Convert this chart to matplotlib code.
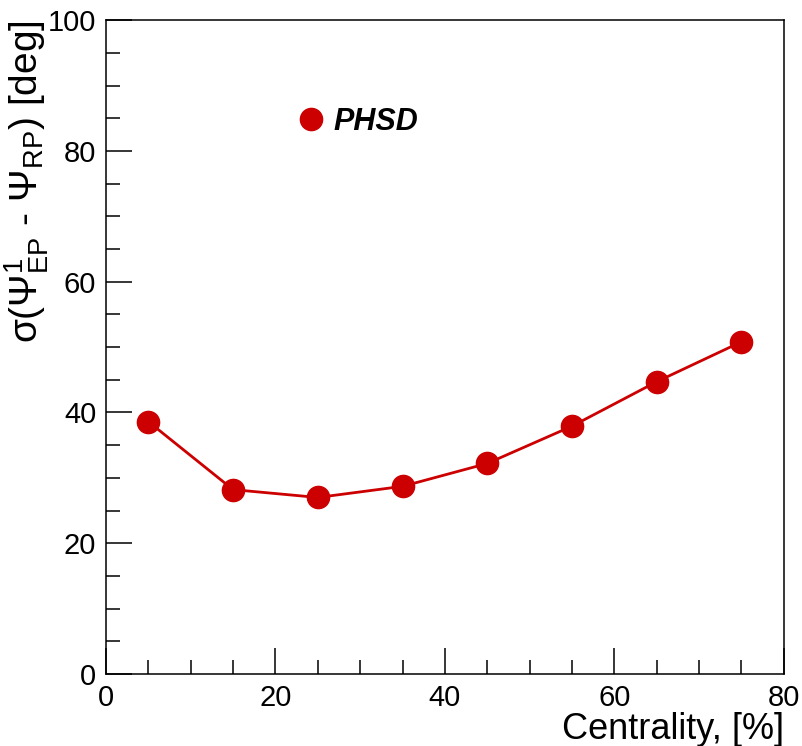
import matplotlib
matplotlib.use("Agg")
import matplotlib.pyplot as plt
from matplotlib.ticker import MultipleLocator

# centrality bins (%) and event-plane resolution sigma (deg)
centrality = [5, 15, 25, 35, 45, 55, 65, 75]
sigma_psi = [38.6, 28.2, 27.0, 28.7, 32.2, 37.9, 44.7, 50.8]

plt.rcParams["font.family"] = "Liberation Sans"
plt.rcParams["mathtext.fontset"] = "custom"
plt.rcParams["mathtext.rm"] = "Liberation Sans"
plt.rcParams["mathtext.it"] = "Liberation Sans:italic"
plt.rcParams["mathtext.bf"] = "Liberation Sans:bold"

red = "#cc0000"

fig = plt.figure(figsize=(8.03, 7.46), dpi=100)
ax = fig.add_axes([0.132, 0.0965, 0.844, 0.8765])

ax.plot(centrality, sigma_psi, color=red, lw=2.0, marker="o", ms=16,
        mec=red, mfc=red, label="PHSD")

ax.set_xlim(0, 80)
ax.set_ylim(0, 100)

ax.xaxis.set_major_locator(MultipleLocator(20))
ax.xaxis.set_minor_locator(MultipleLocator(5))
ax.yaxis.set_major_locator(MultipleLocator(20))
ax.yaxis.set_minor_locator(MultipleLocator(5))
ax.tick_params(which="both", direction="in", top=False, right=False,
               width=1.1, labelsize=21)
ax.tick_params(which="major", length=19)
ax.tick_params(which="minor", length=10)
ax.tick_params(axis="x", pad=7)
ax.tick_params(axis="y", pad=7)
for s in ax.spines.values():
    s.set_linewidth(1.1)

ax.set_xlabel("Centrality, [%]", fontsize=26, loc="right", labelpad=0)
ax.set_ylabel(r"σ($\Psi^{1}_{\mathrm{EP}}$ - $\Psi_{\mathrm{RP}}$) [deg]",
              fontsize=28, loc="top", labelpad=-2)

leg = ax.legend(loc="center left", bbox_to_anchor=(0.289, 0.8445), frameon=False,
                handlelength=0.6, handletextpad=0.45, borderaxespad=0, borderpad=0,
                prop={"size": 22, "weight": "bold", "style": "italic"})
leg.legend_handles[0].set_linestyle("none")

fig.savefig("out.png", dpi=100)
